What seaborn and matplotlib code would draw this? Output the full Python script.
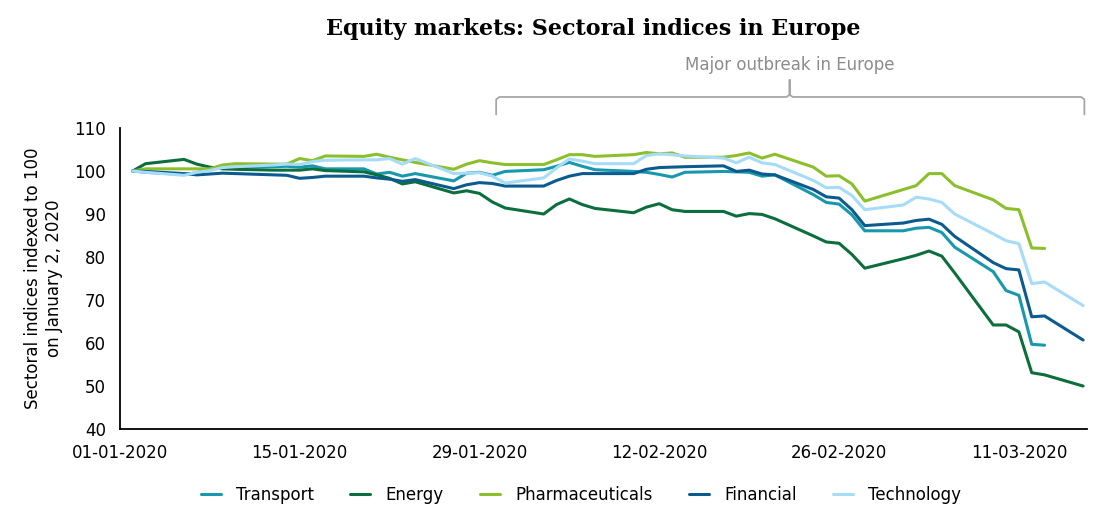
import matplotlib
matplotlib.use("Agg")
import matplotlib.pyplot as plt
import matplotlib.dates as mdates
import numpy as np
import pandas as pd
import seaborn as sns

dates = pd.to_datetime([
    "2020-01-02", "2020-01-03", "2020-01-06", "2020-01-07", "2020-01-08", "2020-01-09", "2020-01-10",
    "2020-01-13", "2020-01-14", "2020-01-15", "2020-01-16", "2020-01-17",
    "2020-01-20", "2020-01-21", "2020-01-22", "2020-01-23", "2020-01-24",
    "2020-01-27", "2020-01-28", "2020-01-29", "2020-01-30", "2020-01-31",
    "2020-02-03", "2020-02-04", "2020-02-05", "2020-02-06", "2020-02-07",
    "2020-02-10", "2020-02-11", "2020-02-12", "2020-02-13", "2020-02-14",
    "2020-02-17", "2020-02-18", "2020-02-19", "2020-02-20", "2020-02-21",
    "2020-02-24", "2020-02-25", "2020-02-26", "2020-02-27", "2020-02-28",
    "2020-03-02", "2020-03-03", "2020-03-04", "2020-03-05", "2020-03-06",
    "2020-03-09", "2020-03-10", "2020-03-11", "2020-03-12", "2020-03-13",
    "2020-03-16",
])

transport = [100, 99.7, 99.2, 99.6, 100.5, 100.8, 100.9,
             101.0, 101.1, 100.9, 101.2, 100.5,
             100.5, 99.3, 99.7, 98.8, 99.4,
             97.7, 99.5, 99.7, 99.0, 99.9,
             100.3, 101.1, 102.0, 101.1, 100.3,
             99.9, 99.7, 99.2, 98.6, 99.7,
             99.9, 99.8, 99.7, 98.8, 99.1,
             94.5, 92.7, 92.3, 89.8, 86.1,
             86.1, 86.7, 86.9, 85.7, 82.3,
             76.6, 72.2, 71.1, 59.7, 59.5,
             np.nan]
energy = [100, 101.7, 102.7, 101.6, 100.9, 100.5, 100.4,
          100.2, 100.2, 100.2, 100.5, 100.1,
          99.8, 99.1, 98.3, 97.0, 97.5,
          94.9, 95.4, 94.8, 92.8, 91.4,
          90.0, 92.2, 93.5, 92.2, 91.3,
          90.3, 91.6, 92.4, 91.0, 90.6,
          90.6, 89.5, 90.1, 89.9, 88.9,
          84.9, 83.5, 83.2, 80.6, 77.4,
          79.6, 80.4, 81.4, 80.2, 76.3,
          64.2, 64.2, 62.6, 53.1, 52.6,
          50.0]
pharma = [100, 100.5, 100.5, 100.5, 100.5, 101.4, 101.7,
          101.6, 101.6, 102.9, 102.4, 103.5,
          103.4, 103.9, 103.2, 102.6, 102.0,
          100.4, 101.6, 102.4, 101.9, 101.5,
          101.5, 102.6, 103.8, 103.8, 103.4,
          103.8, 104.3, 104.0, 104.2, 103.2,
          103.2, 103.6, 104.2, 103.0, 103.9,
          100.9, 98.8, 98.9, 97.0, 93.0,
          95.7, 96.6, 99.4, 99.4, 96.6,
          93.3, 91.3, 91.0, 82.1, 82.0,
          np.nan]
financial = [100, 99.9, 99.4, 99.1, 99.3, 99.5, 99.4,
             99.1, 99.0, 98.3, 98.5, 98.8,
             98.8, 98.4, 98.1, 97.6, 98.0,
             95.9, 96.8, 97.3, 97.1, 96.5,
             96.5, 97.8, 98.8, 99.4, 99.4,
             99.4, 100.4, 100.8, 100.9, 101.0,
             101.2, 99.9, 100.2, 99.3, 99.1,
             95.7, 94.0, 93.7, 91.0, 87.3,
             87.9, 88.5, 88.8, 87.6, 84.8,
             78.7, 77.3, 77.0, 66.1, 66.3,
             60.7]
technology = [100, 99.7, 99.0, 99.7, 100.1, 100.8, 101.0,
              101.4, 101.6, 101.5, 102.2, 102.5,
              102.6, 102.6, 102.9, 101.6, 102.9,
              99.4, 99.5, 99.6, 98.8, 97.2,
              98.4, 100.7, 102.8, 102.3, 101.7,
              101.7, 103.6, 104.0, 103.8, 103.5,
              103.0, 101.9, 103.2, 101.9, 101.5,
              97.8, 96.1, 96.2, 94.3, 91.0,
              92.1, 93.9, 93.5, 92.7, 90.0,
              85.4, 83.8, 83.1, 73.8, 74.2,
              68.7]

series = ["Transport", "Energy", "Pharmaceuticals", "Financial", "Technology"]
colors = ["#1798ad", "#0b6e3c", "#8cbf2c", "#0b5b8f", "#a6dcf7"]
tick_dates = pd.to_datetime(["2020-01-01", "2020-01-15", "2020-01-29",
                             "2020-02-12", "2020-02-26", "2020-03-11"])
yticks = [40, 50, 60, 70, 80, 90, 100, 110]

df = pd.DataFrame({"date": dates, "Transport": transport, "Energy": energy,
                   "Pharmaceuticals": pharma, "Financial": financial,
                   "Technology": technology})
long = df.melt(id_vars="date", var_name="sector", value_name="index").dropna()

sns.set_style("white")
plt.rcParams["font.family"] = ["DejaVu Sans"]
plt.rcParams["text.color"] = "black"
plt.rcParams["axes.labelcolor"] = "black"

fig = plt.figure(figsize=(11.2, 5.12), dpi=100)
ax = fig.add_axes([0.107, 0.162, 0.8635, 0.588])

sns.lineplot(data=long, x="date", y="index", hue="sector", hue_order=series,
             palette=colors, linewidth=2.2, ax=ax, legend=True)

ax.set_xlim(pd.Timestamp("2020-01-01"), pd.Timestamp("2020-01-01") + pd.Timedelta(days=75.3))
ax.set_ylim(40, 110)
ax.set_yticks(yticks)
ax.set_xticks(tick_dates)
ax.xaxis.set_major_formatter(mdates.DateFormatter("%d-%m-%Y"))
ax.tick_params(axis="x", length=5, width=1, direction="out", labelsize=12, pad=6,
               colors="black")
ax.tick_params(axis="y", length=0, labelsize=12, pad=10, labelcolor="black")
for s in ["top", "right"]:
    ax.spines[s].set_visible(False)
for s in ["left", "bottom"]:
    ax.spines[s].set_color("black")
    ax.spines[s].set_linewidth(1.3)
ax.set_xlabel("")
ax.set_ylabel("Sectoral indices indexed to 100\non January 2, 2020", fontsize=12,
              labelpad=8, color="black")

# brace over the outbreak period
tr = ax.get_xaxis_transform()
x0 = mdates.date2num(pd.Timestamp("2020-01-30")) + 0.3
x1 = mdates.date2num(pd.Timestamp("2020-03-16")) + 0.1
xm = mdates.date2num(pd.Timestamp("2020-02-22")) + 0.15
bc = "#a6a6a6"
ax.plot([x0, x0, x0 + 0.25, xm - 0.25, xm, xm, xm, xm + 0.25, x1 - 0.25, x1, x1],
        [1.045, 1.095, 1.103, 1.103, 1.11, 1.16, 1.11, 1.103, 1.103, 1.095, 1.045],
        transform=tr, color=bc, lw=1.3, clip_on=False)
ax.text(xm, 1.21, "Major outbreak in Europe", transform=tr, ha="center", va="center",
        fontsize=12, color="#8c8c8c")

fig.suptitle("Equity markets: Sectoral indices in Europe", x=0.53, y=0.965,
             fontsize=16, fontweight="bold", family="DejaVu Serif", color="black")

leg = ax.legend(loc="upper center", bbox_to_anchor=(0.477, -0.14), ncol=5, frameon=False,
                fontsize=12, handlelength=1.2, columnspacing=2.2, handletextpad=0.9)
for t in leg.get_texts():
    t.set_color("black")
for h in leg.get_lines():
    h.set_linewidth(2.2)

fig.savefig("out.png", dpi=100)
